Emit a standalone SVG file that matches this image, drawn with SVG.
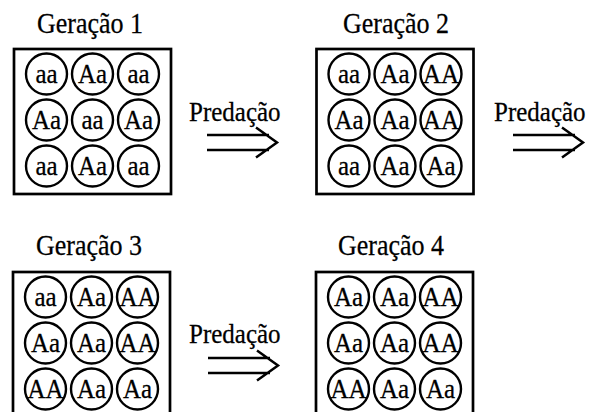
<svg xmlns="http://www.w3.org/2000/svg" width="599" height="412" viewBox="0 0 599 412">
<style>
text{font-family:"Liberation Serif","Times New Roman",serif;fill:#000;stroke:#000;stroke-width:0.25}
.t{font-size:26px}
.p{font-size:25px}
.g{font-size:25px;text-anchor:middle}
.box{fill:#fff;stroke:#000;stroke-width:2.7}
.c{fill:none;stroke:#000;stroke-width:2.4}
.ar{fill:none;stroke:#000;stroke-width:2.5;stroke-linecap:butt;stroke-linejoin:miter}
</style>
<rect width="599" height="412" fill="#fff"/>
<g id="gen1">
<text class="t" transform="translate(37,33) scale(1,1.1)">Geração 1</text>
<g transform="translate(14,49)">
<rect class="box" x="0" y="0" width="157" height="145"/>
<circle class="c" cx="32.5" cy="25" r="20.5"/><circle class="c" cx="78.5" cy="25" r="20.5"/><circle class="c" cx="124.5" cy="25" r="20.5"/>
<circle class="c" cx="32.5" cy="71" r="20.5"/><circle class="c" cx="78.5" cy="71" r="20.5"/><circle class="c" cx="124.5" cy="71" r="20.5"/>
<circle class="c" cx="32.5" cy="117" r="20.5"/><circle class="c" cx="78.5" cy="117" r="20.5"/><circle class="c" cx="124.5" cy="117" r="20.5"/>
<text class="g" transform="translate(32.5,34) scale(1,1.12)">aa</text><text class="g" transform="translate(78.5,34) scale(1,1.12)">Aa</text><text class="g" transform="translate(124.5,34) scale(1,1.12)">aa</text>
<text class="g" transform="translate(32.5,80) scale(1,1.12)">Aa</text><text class="g" transform="translate(78.5,80) scale(1,1.12)">aa</text><text class="g" transform="translate(124.5,80) scale(1,1.12)">Aa</text>
<text class="g" transform="translate(32.5,126) scale(1,1.12)">aa</text><text class="g" transform="translate(78.5,126) scale(1,1.12)">Aa</text><text class="g" transform="translate(124.5,126) scale(1,1.12)">aa</text>
</g>
</g>
<g id="gen2">
<text class="t" transform="translate(343,33) scale(1,1.1)">Geração 2</text>
<g transform="translate(316.5,49)">
<rect class="box" x="0" y="0" width="157" height="145"/>
<circle class="c" cx="32.5" cy="25" r="20.5"/><circle class="c" cx="78.5" cy="25" r="20.5"/><circle class="c" cx="124.5" cy="25" r="20.5"/>
<circle class="c" cx="32.5" cy="71" r="20.5"/><circle class="c" cx="78.5" cy="71" r="20.5"/><circle class="c" cx="124.5" cy="71" r="20.5"/>
<circle class="c" cx="32.5" cy="117" r="20.5"/><circle class="c" cx="78.5" cy="117" r="20.5"/><circle class="c" cx="124.5" cy="117" r="20.5"/>
<text class="g" transform="translate(32.5,34) scale(1,1.12)">aa</text><text class="g" transform="translate(78.5,34) scale(1,1.12)">Aa</text><text class="g" transform="translate(124.5,34) scale(1,1.12)">AA</text>
<text class="g" transform="translate(32.5,80) scale(1,1.12)">Aa</text><text class="g" transform="translate(78.5,80) scale(1,1.12)">Aa</text><text class="g" transform="translate(124.5,80) scale(1,1.12)">AA</text>
<text class="g" transform="translate(32.5,126) scale(1,1.12)">aa</text><text class="g" transform="translate(78.5,126) scale(1,1.12)">Aa</text><text class="g" transform="translate(124.5,126) scale(1,1.12)">Aa</text>
</g>
</g>
<g id="gen3">
<text class="t" transform="translate(36,255) scale(1,1.1)">Geração 3</text>
<g transform="translate(13,272)">
<rect class="box" x="0" y="0" width="157" height="145"/>
<circle class="c" cx="32.5" cy="25" r="20.5"/><circle class="c" cx="78.5" cy="25" r="20.5"/><circle class="c" cx="124.5" cy="25" r="20.5"/>
<circle class="c" cx="32.5" cy="71" r="20.5"/><circle class="c" cx="78.5" cy="71" r="20.5"/><circle class="c" cx="124.5" cy="71" r="20.5"/>
<circle class="c" cx="32.5" cy="117" r="20.5"/><circle class="c" cx="78.5" cy="117" r="20.5"/><circle class="c" cx="124.5" cy="117" r="20.5"/>
<text class="g" transform="translate(32.5,34) scale(1,1.12)">aa</text><text class="g" transform="translate(78.5,34) scale(1,1.12)">Aa</text><text class="g" transform="translate(124.5,34) scale(1,1.12)">AA</text>
<text class="g" transform="translate(32.5,80) scale(1,1.12)">Aa</text><text class="g" transform="translate(78.5,80) scale(1,1.12)">Aa</text><text class="g" transform="translate(124.5,80) scale(1,1.12)">AA</text>
<text class="g" transform="translate(32.5,126) scale(1,1.12)">AA</text><text class="g" transform="translate(78.5,126) scale(1,1.12)">Aa</text><text class="g" transform="translate(124.5,126) scale(1,1.12)">Aa</text>
</g>
</g>
<g id="gen4">
<text class="t" transform="translate(338,255) scale(1,1.1)">Geração 4</text>
<g transform="translate(316,272)">
<rect class="box" x="0" y="0" width="157" height="145"/>
<circle class="c" cx="32.5" cy="25" r="20.5"/><circle class="c" cx="78.5" cy="25" r="20.5"/><circle class="c" cx="124.5" cy="25" r="20.5"/>
<circle class="c" cx="32.5" cy="71" r="20.5"/><circle class="c" cx="78.5" cy="71" r="20.5"/><circle class="c" cx="124.5" cy="71" r="20.5"/>
<circle class="c" cx="32.5" cy="117" r="20.5"/><circle class="c" cx="78.5" cy="117" r="20.5"/><circle class="c" cx="124.5" cy="117" r="20.5"/>
<text class="g" transform="translate(32.5,34) scale(1,1.12)">Aa</text><text class="g" transform="translate(78.5,34) scale(1,1.12)">Aa</text><text class="g" transform="translate(124.5,34) scale(1,1.12)">AA</text>
<text class="g" transform="translate(32.5,80) scale(1,1.12)">Aa</text><text class="g" transform="translate(78.5,80) scale(1,1.12)">Aa</text><text class="g" transform="translate(124.5,80) scale(1,1.12)">AA</text>
<text class="g" transform="translate(32.5,126) scale(1,1.12)">AA</text><text class="g" transform="translate(78.5,126) scale(1,1.12)">Aa</text><text class="g" transform="translate(124.5,126) scale(1,1.12)">Aa</text>
</g>
</g>
<g id="connectors">
<g id="arrow1">
<text class="p" transform="translate(189,121) scale(1,1.12)">Predação</text>
<path class="ar" d="M207,135 H269 M207,150 H269 M256,127.5 L277,142.5 L256,157.5"/>
</g>
<g id="arrow2">
<text class="p" transform="translate(494,121) scale(1,1.12)">Predação</text>
<path class="ar" d="M513,135 H575 M513,150 H575 M562,127.5 L583,142.5 L562,157.5"/>
</g>
<g id="arrow3">
<text class="p" transform="translate(189,343) scale(1,1.12)">Predação</text>
<path class="ar" d="M208,358 H270 M208,373 H270 M257,350.5 L278,365.5 L257,380.5"/>
</g>
</g>
</svg>
